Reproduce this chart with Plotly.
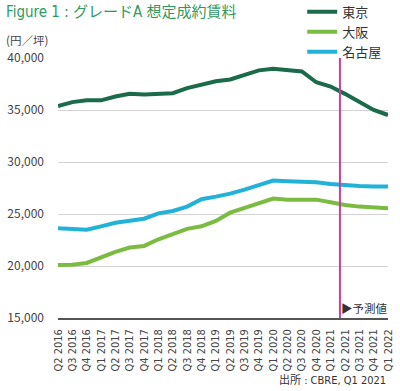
import plotly.graph_objects as go

quarters = ["Q2 2016", "Q3 2016", "Q4 2016",
            "Q1 2017", "Q2 2017", "Q3 2017", "Q4 2017",
            "Q1 2018", "Q2 2018", "Q3 2018", "Q4 2018",
            "Q1 2019", "Q2 2019", "Q3 2019", "Q4 2019",
            "Q1 2020", "Q2 2020", "Q3 2020", "Q4 2020",
            "Q1 2021", "Q2 2021", "Q3 2021", "Q4 2021",
            "Q1 2022"]

tokyo = [35380, 35760, 35930, 35930, 36300, 36560, 36500, 36530, 36620, 37100, 37480, 37770,
         37940, 38420, 38810, 38970, 38810, 38710, 37670, 37260, 36550, 35740, 35000, 34520]
osaka = [20100, 20130, 20290, 20840, 21350, 21770, 21930, 22570, 23040, 23570, 23820, 24330,
         25130, 25580, 25970, 26480, 26380, 26420, 26380, 26130, 25870, 25710, 25610, 25550]
nagoya = [23620, 23550, 23490, 23810, 24160, 24360, 24550, 25060, 25290, 25710, 26420, 26670,
          26960, 27350, 27800, 28220, 28150, 28120, 28050, 27890, 27770, 27700, 27640, 27640]

series_names = ["東京", "大阪", "名古屋"]
series_colors = ["#1b6b4b", "#7cbb42", "#22b2d8"]

y_ticks = [15000, 20000, 25000, 30000, 35000, 40000]
y_tick_labels = ["15,000", "20,000", "25,000", "30,000", "35,000", "40,000"]

forecast_pos = 19.65  # between Q1 2021 and Q2 2021

cjk = "Noto Sans CJK JP, Noto Sans, sans-serif"
narrow = "Liberation Sans Narrow, DejaVu Sans Condensed, Noto Sans CJK JP, sans-serif"

fig = go.Figure()
for name, vals, col in zip(series_names, [tokyo, osaka, nagoya], series_colors):
    fig.add_trace(go.Scatter(x=quarters, y=vals, name=name, mode="lines",
                             line=dict(color=col, width=4), cliponaxis=False))

fig.add_shape(type="line", xref="x", yref="paper", x0=forecast_pos, x1=forecast_pos,
              y0=0, y1=1, line=dict(color="#c4409f", width=2), layer="above")

fig.update_layout(
    width=400, height=391,
    margin=dict(l=58, r=12, t=58, b=73, autoexpand=False),
    paper_bgcolor="white", plot_bgcolor="white",
    font=dict(family=cjk, size=12, color="#444444"),
    showlegend=True,
    legend=dict(x=0.74, y=1.235, xanchor="left", yanchor="top",
                font=dict(size=13, color="#333333", family=cjk),
                tracegroupgap=0, itemwidth=30, bgcolor="rgba(0,0,0,0)"),
    xaxis=dict(type="category", range=[0, 23], tickangle=-90, automargin=False,
               showgrid=False, showline=True, linecolor="#555555", linewidth=1.5,
               ticks="", tickfont=dict(family=narrow, size=11, color="#444444"),
               ticklabelstandoff=5, fixedrange=True),
    yaxis=dict(range=[15000, 40000], tickvals=y_ticks, ticktext=y_tick_labels,
               automargin=False,
               showgrid=True, gridcolor="#d3d3d3", gridwidth=1, zeroline=False,
               ticks="", tickfont=dict(family=cjk, size=12, color="#444444"),
               ticklabelstandoff=13, fixedrange=True),
    annotations=[
        dict(text="Figure 1 : グレードA 想定成約賃料", xref="paper", yref="paper",
             x=-0.163, y=1.175, xanchor="left", yanchor="middle", showarrow=False,
             font=dict(family=narrow, size=15, color="#2f9a60")),
        dict(text="(円／坪)", xref="paper", yref="paper", x=-0.163, y=1.068,
             xanchor="left", yanchor="middle", showarrow=False,
             font=dict(family=cjk, size=11.5, color="#444444")),
        dict(text="▶予測値", xref="paper", yref="paper", x=1.007, y=0.04,
             xanchor="right", yanchor="middle", showarrow=False,
             font=dict(family=cjk, size=11.5, color="#333333")),
        dict(text="出所 : CBRE, Q1 2021", xref="paper", yref="paper", x=1.0, y=-0.237,
             xanchor="right", yanchor="middle", showarrow=False,
             font=dict(family=narrow, size=11, color="#333333")),
    ],
)

fig.write_html("out.html", config={"displayModeBar": False},
               post_script="document.body.style.margin='0';document.body.style.overflow='hidden';")
